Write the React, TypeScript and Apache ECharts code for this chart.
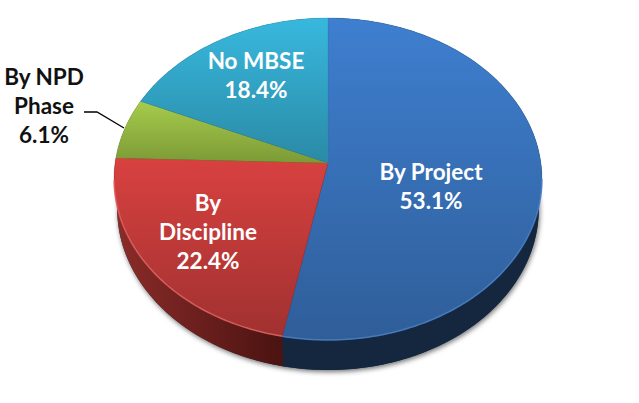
import React, { useEffect, useRef } from "react";
import * as echarts from "echarts";

const categories = ["By Project", "By\nDiscipline", "By NPD\nPhase", "No MBSE"];
const shares = [53.1, 22.4, 6.1, 18.4];

const topColors = [
  ["#3e7fd0", "#2f5e99"],
  ["#d84140", "#a03130"],
  ["#a6cc4c", "#7d9a36"],
  ["#38b8de", "#2a8aa6"],
];
const wallColors = [
  ["#14273f", "#14273f"],
  ["#8c2c29", "#4a1311"],
  ["#5a7026", "#5a7026"],
  ["#1c6074", "#1c6074"],
];
const rimColors = ["#4f86cc", "#e56a66", "#b8d868", "#58c4e2"];
const textColors = ["#ffffff", "#ffffff", "#111111", "#ffffff"];
const labelCenters = [
  [431, 186],
  [208, 231],
  [44, 105],
  [256, 75],
];

const CX = 328;
const CY = 163;
const RX = 212.9;
const RY = 159.4;
const PERSPECTIVE = 0.0994;
const DEPTH = 30;
const BOTTOM_SCALE = 0.985;

function project(fraction: number): [number, number] {
  const a = fraction * Math.PI * 2;
  const u = Math.sin(a);
  const v = -Math.cos(a);
  const d = 1 - PERSPECTIVE * v;
  return [CX + (RX * u) / d, CY + (RY * v) / d];
}

function arc(from: number, to: number): [number, number][] {
  const n = Math.max(2, Math.ceil((to - from) * 360));
  const pts: [number, number][] = [];
  for (let i = 0; i <= n; i++) pts.push(project(from + ((to - from) * i) / n));
  return pts;
}

function lower(p: [number, number]): [number, number] {
  return [CX + (p[0] - CX) * BOTTOM_SCALE, p[1] + DEPTH];
}

function range(index: number, value: number): [number, number] {
  const total = shares.reduce((s, x) => s + x, 0);
  const before = shares.slice(0, index).reduce((s, x) => s + x, 0);
  return [before / total, (before + value) / total];
}

function renderWall(params: any, api: any) {
  const i = params.dataIndex;
  const [from, to] = range(i, api.value(0));
  const top = arc(from, to);
  const bottom = top.map(lower).reverse();
  const children: any[] = [];
  if (i === 0) {
    children.push({
      type: "polygon",
      shape: { points: arc(0, 1).map(lower) },
      style: {
        fill: "#14273f",
        shadowBlur: 5,
        shadowColor: "rgba(0,0,0,0.55)",
        shadowOffsetX: 1,
        shadowOffsetY: 2,
      },
    });
  }
  children.push({
    type: "polygon",
    shape: { points: [...top, ...bottom] },
    style: {
      fill: new echarts.graphic.LinearGradient(0, 0, 1, 0, [
        { offset: 0, color: wallColors[i][0] },
        { offset: 1, color: wallColors[i][1] },
      ]),
    },
  });
  return { type: "group", children };
}

function renderTop(params: any, api: any) {
  const i = params.dataIndex;
  const [from, to] = range(i, api.value(0));
  const edge = arc(from, to);
  const front = edge.filter((p) => p[1] > CY + 15);
  const children: any[] = [
    {
      type: "polygon",
      shape: { points: [[CX, CY], ...edge] },
      style: {
        fill: new echarts.graphic.LinearGradient(0, 0, 0, 1, [
          { offset: 0, color: topColors[i][0] },
          { offset: 1, color: topColors[i][1] },
        ]),
        stroke: topColors[i][1],
        lineWidth: 0.3,
      },
    },
  ];
  if (front.length > 1) {
    children.push({
      type: "polyline",
      shape: { points: front },
      style: { fill: "none", stroke: rimColors[i], lineWidth: 1.5, opacity: 0.8 },
    });
  }
  children.push({
    type: "text",
    x: labelCenters[i][0],
    y: labelCenters[i][1],
    style: {
      text: `${categories[i]}\n${api.value(0).toFixed(1)}%`,
      fill: textColors[i],
      font: 'bold 22.5px Lato, "Open Sans", sans-serif',
      lineHeight: 29,
      align: "center",
      verticalAlign: "middle",
    },
  });
  return { type: "group", children };
}

export default function App() {
  const ref = useRef<HTMLDivElement>(null);
  useEffect(() => {
    document.body.style.margin = "0";
    const chart = echarts.init(ref.current!, undefined, { renderer: "svg" });
    const data = shares.map((v, i) => ({ name: categories[i], value: [v] }));
    chart.setOption({
      animation: false,
      backgroundColor: "#ffffff",
      series: [
        { type: "custom", coordinateSystem: "none", silent: true, renderItem: renderWall, data },
        { type: "custom", coordinateSystem: "none", silent: true, renderItem: renderTop, data },
      ],
      graphic: [
        {
          type: "polyline",
          shape: { points: [[84, 112], [97, 112], [124, 128]] },
          style: { fill: "none", stroke: "#000000", lineWidth: 1.3 },
        },
      ],
    });
    return () => chart.dispose();
  }, []);
  return <div ref={ref} style={{ width: 639, height: 403 }} />;
}
